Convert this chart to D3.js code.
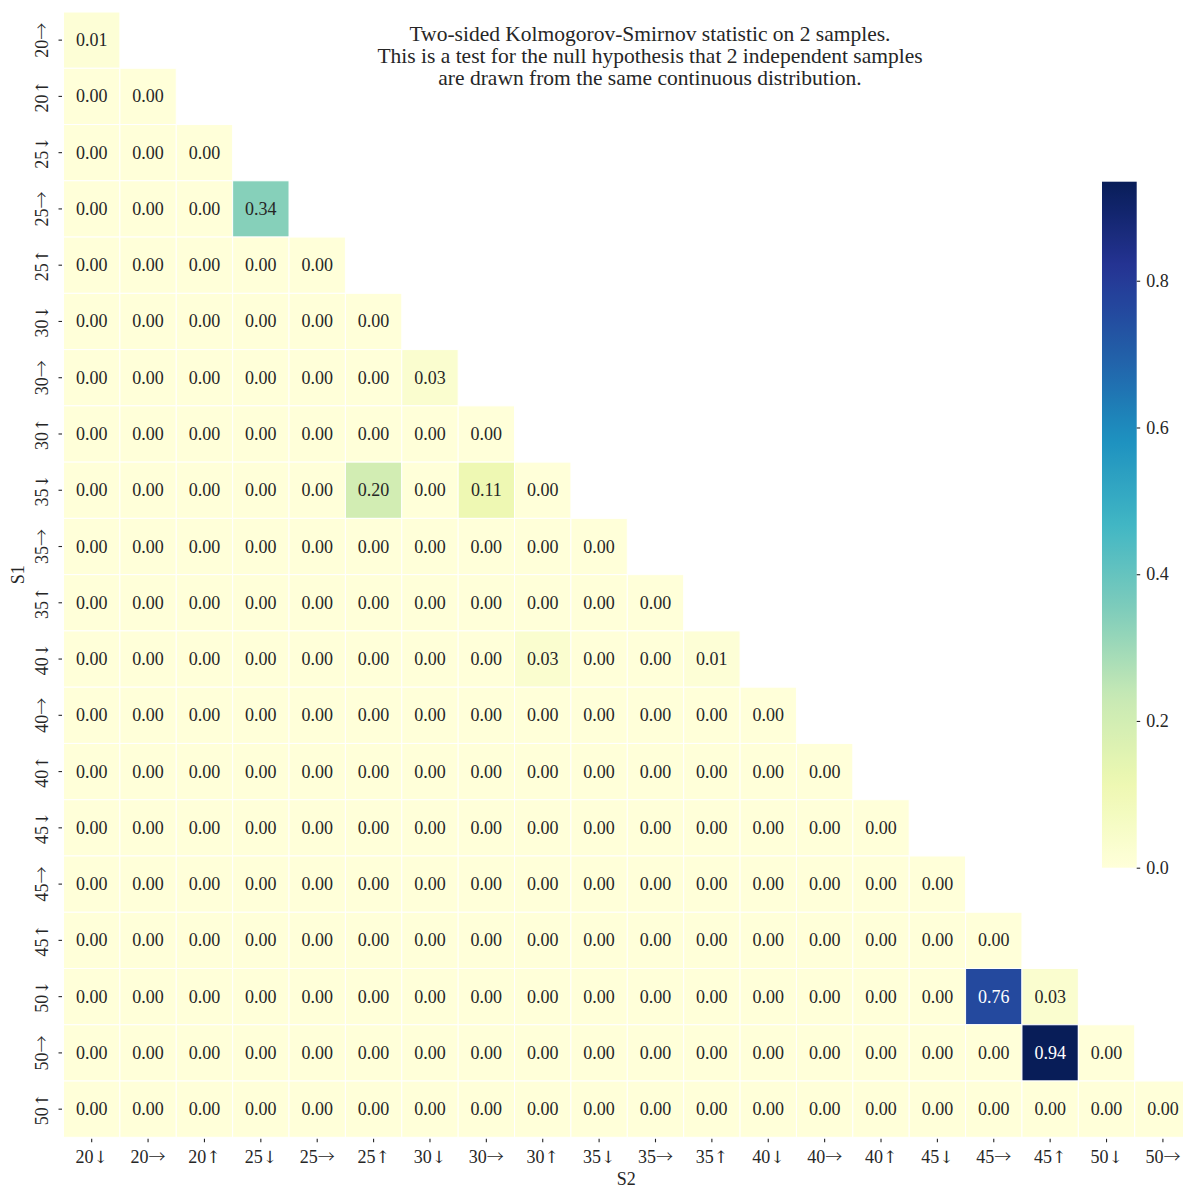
<!DOCTYPE html>
<html>
<head>
<meta charset="utf-8">
<script src="https://cdn.jsdelivr.net/npm/d3@7"></script>
<style>
  html, body { margin: 0; padding: 0; background: #fff; }
  svg { display: block; }
  text { font-family: "Liberation Serif", "Times New Roman", serif; fill: #262626; }
</style>
</head>
<body>
<svg id="chart" width="1183" height="1188"></svg>
<script>
// Sample labels: window size with trend direction
const rowLabels = ["20→","20↑","25↓","25→","25↑","30↓","30→","30↑","35↓","35→",
                   "35↑","40↓","40→","40↑","45↓","45→","45↑","50↓","50→","50↑"];
const colLabels = ["20↓","20→","20↑","25↓","25→","25↑","30↓","30→","30↑","35↓",
                   "35→","35↑","40↓","40→","40↑","45↓","45→","45↑","50↓","50→"];

// Lower-triangle p-values of the two-sample KS test, one array per S1 row
const pValues = [
  [0.01],
  [0.00, 0.00],
  [0.00, 0.00, 0.00],
  [0.00, 0.00, 0.00, 0.34],
  [0.00, 0.00, 0.00, 0.00, 0.00],
  [0.00, 0.00, 0.00, 0.00, 0.00, 0.00],
  [0.00, 0.00, 0.00, 0.00, 0.00, 0.00, 0.03],
  [0.00, 0.00, 0.00, 0.00, 0.00, 0.00, 0.00, 0.00],
  [0.00, 0.00, 0.00, 0.00, 0.00, 0.20, 0.00, 0.11, 0.00],
  [0.00, 0.00, 0.00, 0.00, 0.00, 0.00, 0.00, 0.00, 0.00, 0.00],
  [0.00, 0.00, 0.00, 0.00, 0.00, 0.00, 0.00, 0.00, 0.00, 0.00, 0.00],
  [0.00, 0.00, 0.00, 0.00, 0.00, 0.00, 0.00, 0.00, 0.03, 0.00, 0.00, 0.01],
  [0.00, 0.00, 0.00, 0.00, 0.00, 0.00, 0.00, 0.00, 0.00, 0.00, 0.00, 0.00, 0.00],
  [0.00, 0.00, 0.00, 0.00, 0.00, 0.00, 0.00, 0.00, 0.00, 0.00, 0.00, 0.00, 0.00, 0.00],
  [0.00, 0.00, 0.00, 0.00, 0.00, 0.00, 0.00, 0.00, 0.00, 0.00, 0.00, 0.00, 0.00, 0.00, 0.00],
  [0.00, 0.00, 0.00, 0.00, 0.00, 0.00, 0.00, 0.00, 0.00, 0.00, 0.00, 0.00, 0.00, 0.00, 0.00, 0.00],
  [0.00, 0.00, 0.00, 0.00, 0.00, 0.00, 0.00, 0.00, 0.00, 0.00, 0.00, 0.00, 0.00, 0.00, 0.00, 0.00, 0.00],
  [0.00, 0.00, 0.00, 0.00, 0.00, 0.00, 0.00, 0.00, 0.00, 0.00, 0.00, 0.00, 0.00, 0.00, 0.00, 0.00, 0.76, 0.03],
  [0.00, 0.00, 0.00, 0.00, 0.00, 0.00, 0.00, 0.00, 0.00, 0.00, 0.00, 0.00, 0.00, 0.00, 0.00, 0.00, 0.00, 0.94, 0.00],
  [0.00, 0.00, 0.00, 0.00, 0.00, 0.00, 0.00, 0.00, 0.00, 0.00, 0.00, 0.00, 0.00, 0.00, 0.00, 0.00, 0.00, 0.00, 0.00, 0.00]
];

const colorbarTicks = [0.0, 0.2, 0.4, 0.6, 0.8];
const colorMin = 0.0;
const colorMax = 0.935;

const titleLines = [
  "Two-sided Kolmogorov-Smirnov statistic on 2 samples.",
  "This is a test for the null hypothesis that 2 independent samples",
  "are drawn from the same continuous distribution."
];

// YlGnBu (ColorBrewer 9-class), linearly interpolated
const ylGnBu = ["#ffffd9","#edf8b1","#c7e9b4","#7fcdbb","#41b6c4","#1d91c0","#225ea8","#253494","#081d58"];

const cells = [];
pValues.forEach((row, i) => row.forEach((v, j) => cells.push({ r: rowLabels[i], c: colLabels[j], v })));

const svg = d3.select("#chart");
const grid = { left: 63.5, right: 1191.1, top: 12, bottom: 1137.3 };

const x = d3.scaleBand().domain(colLabels).range([grid.left, grid.right]);
const y = d3.scaleBand().domain(rowLabels).range([grid.top, grid.bottom]);

const colorT = d3.scaleLinear().domain([colorMin, colorMax]).range([0, 1]).clamp(true);
const ramp = d3.scaleLinear()
  .domain(ylGnBu.map((_, k) => k / (ylGnBu.length - 1)))
  .range(ylGnBu)
  .interpolate(d3.interpolateRgb);
const color = v => ramp(colorT(v));

function luminance(c) {
  const rgb = d3.rgb(c);
  const lin = u => { u /= 255; return u <= 0.03928 ? u / 12.92 : Math.pow((u + 0.055) / 1.055, 2.4); };
  return 0.2126 * lin(rgb.r) + 0.7152 * lin(rgb.g) + 0.0722 * lin(rgb.b);
}

// Split a label such as "25→" into its number and arrow, with a thinner face for the arrow
function writeLabel(textSel, label) {
  const num = label.slice(0, -1);
  const arrow = label.slice(-1);
  textSel.text(null);
  textSel.append("tspan").text(num);
  const a = textSel.append("tspan").text(arrow);
  if (arrow === "→") {
    a.style("font-family", "'Noto Sans CJK JP'").style("font-weight", 300).style("font-size", "17px");
  } else {
    a.style("font-family", "'DejaVu Serif'").style("font-size", "17px");
  }
}

// Heatmap cells
svg.append("g").selectAll("rect").data(cells).join("rect")
  .attr("x", d => x(d.c))
  .attr("y", d => y(d.r))
  .attr("width", x.bandwidth())
  .attr("height", y.bandwidth())
  .attr("fill", d => color(d.v))
  .attr("stroke", "#ffffff")
  .attr("stroke-width", 1);

// Annotations
svg.append("g").selectAll("text").data(cells).join("text")
  .attr("x", d => x(d.c) + x.bandwidth() / 2)
  .attr("y", d => y(d.r) + y.bandwidth() / 2)
  .attr("text-anchor", "middle")
  .attr("dominant-baseline", "central")
  .style("font-size", "18px")
  .style("fill", d => luminance(color(d.v)) > 0.408 ? "#262626" : "#ffffff")
  .text(d => d.v.toFixed(2));

// X axis
const xAxis = svg.append("g")
  .attr("transform", `translate(0,${grid.bottom + 1.5})`)
  .call(d3.axisBottom(x).tickSize(3.5).tickPadding(8));
xAxis.select(".domain").remove();
xAxis.selectAll(".tick line").attr("stroke", "#262626").attr("stroke-width", 1.1);
xAxis.selectAll(".tick text")
  .style("font-size", "18px")
  .style("font-family", "'Liberation Serif', serif")
  .attr("fill", "#262626")
  .each(function (d) { writeLabel(d3.select(this), d); });

// Y axis (vertical tick labels)
const yAxis = svg.append("g")
  .attr("transform", `translate(${grid.left - 1.5},0)`)
  .call(d3.axisLeft(y).tickSize(3.5).tickFormat(""));
yAxis.select(".domain").remove();
yAxis.selectAll(".tick line").attr("stroke", "#262626").attr("stroke-width", 1.1);
svg.append("g").selectAll("text").data(rowLabels).join("text")
  .attr("transform", d => `translate(48,${y(d) + y.bandwidth() / 2}) rotate(-90)`)
  .attr("text-anchor", "middle")
  .style("font-size", "18px")
  .each(function (d) { writeLabel(d3.select(this), d); });

// Axis titles
svg.append("text")
  .attr("x", (grid.left + grid.right) / 2 - 1)
  .attr("y", 1184.5)
  .attr("text-anchor", "middle")
  .style("font-size", "18px")
  .text("S2");
svg.append("text")
  .attr("transform", `translate(24,${(grid.top + grid.bottom) / 2}) rotate(-90)`)
  .attr("text-anchor", "middle")
  .style("font-size", "18px")
  .text("S1");

// Title
svg.append("g").selectAll("text").data(titleLines).join("text")
  .attr("x", 650)
  .attr("y", (d, i) => 41 + i * 22)
  .attr("text-anchor", "middle")
  .style("font-size", "21.5px")
  .text(d => d);

// Colorbar
const cb = { x: 1102, w: 34.7, top: 181.7, bottom: 867.7 };
const defs = svg.append("defs");
const grad = defs.append("linearGradient")
  .attr("id", "cbGrad")
  .attr("x1", 0).attr("y1", 1).attr("x2", 0).attr("y2", 0);
d3.range(0, 1.0001, 0.02).forEach(t => {
  grad.append("stop")
    .attr("offset", t)
    .attr("stop-color", color(colorMin + t * (colorMax - colorMin)));
});
svg.append("rect")
  .attr("x", cb.x).attr("y", cb.top)
  .attr("width", cb.w).attr("height", cb.bottom - cb.top)
  .attr("fill", "url(#cbGrad)");

const cbScale = d3.scaleLinear().domain([colorMin, colorMax]).range([cb.bottom, cb.top]);
const cbAxis = svg.append("g")
  .attr("transform", `translate(${cb.x + cb.w},0)`)
  .call(d3.axisRight(cbScale).tickValues(colorbarTicks).tickFormat(d3.format(".1f")).tickSize(3.5).tickPadding(6));
cbAxis.select(".domain").remove();
cbAxis.selectAll(".tick line").attr("stroke", "#262626").attr("stroke-width", 1.1);
cbAxis.selectAll(".tick text")
  .style("font-size", "18px")
  .style("font-family", "'Liberation Serif', serif")
  .attr("fill", "#262626");
</script>
</body>
</html>
